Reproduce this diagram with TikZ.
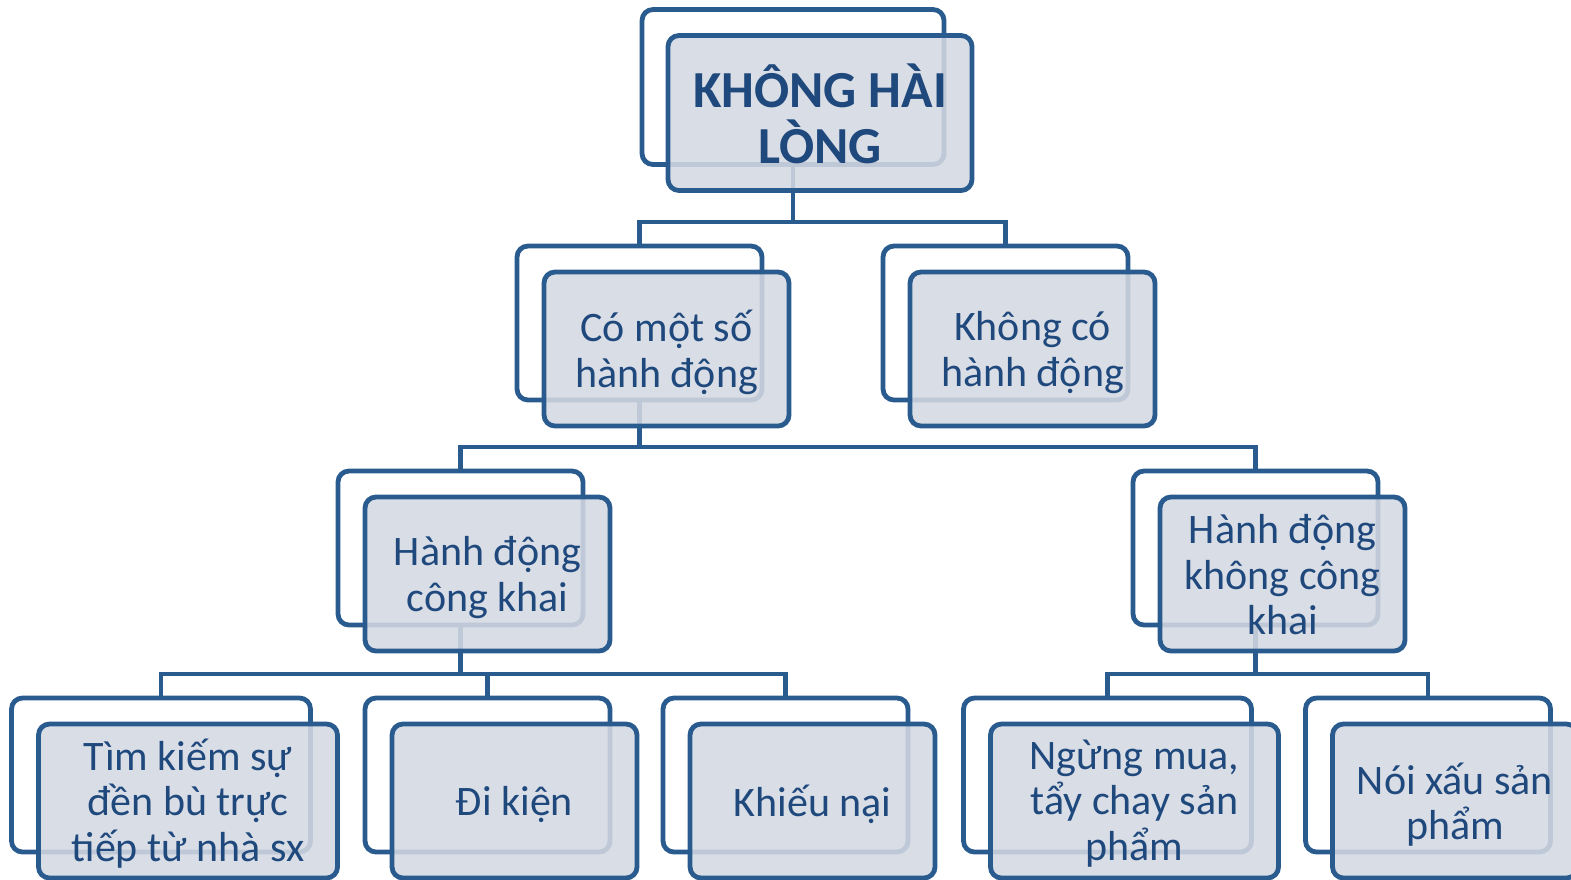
\documentclass[tikz,border=0pt]{standalone}
\usepackage{fontspec}
\setmainfont{Carlito}
\definecolor{edge}{RGB}{41,91,142}
\definecolor{txt}{RGB}{31,73,125}
\definecolor{boxfill}{RGB}{212,216,226}
\begin{document}
\begin{tikzpicture}[x=1pt,y=-1pt,
  backbox/.style={draw=edge, line width=4.8pt, rounded corners=11pt, minimum height=154pt, inner sep=0pt},
  frontbox/.style={draw=edge, line width=4.8pt, rounded corners=11pt, fill=boxfill, fill opacity=0.88, minimum height=154pt, inner sep=0pt},
  boxtext/.style={inner sep=0pt, align=center, text=txt, font=\fontsize{42}{45.5}\selectfont},
  conn/.style={draw=edge, line width=4.8pt}]
\useasboundingbox (0,0) rectangle (1571,879);
\clip (0,0) rectangle (1571,879);
% back boxes
\node[backbox, minimum width=302pt, minimum height=155pt] (b1) at (793,87) {};
\node[backbox, minimum width=245pt] (b2a) at (639.5,323) {};
\node[backbox, minimum width=245pt] (b2b) at (1005.5,323) {};
\node[backbox, minimum width=245pt] (b3a) at (460.5,548) {};
\node[backbox, minimum width=245pt] (b3b) at (1255.5,548) {};
\node[backbox, minimum width=299pt] (b4a) at (161,775) {};
\node[backbox, minimum width=245pt] (b4b) at (487.5,775) {};
\node[backbox, minimum width=245pt] (b4c) at (785.5,775) {};
\node[backbox, minimum width=288pt] (b4d) at (1107.5,775) {};
\node[backbox, minimum width=245pt] (b4e) at (1428,775) {};
% connectors
\coordinate (j1) at (793,222);
\coordinate (j2) at (639.5,447);
\coordinate (j3) at (460.5,674);
\coordinate (j4) at (1255.5,674);
\draw[conn] (b1.south) -- (j1);
\draw[conn] (b2a.north) |- (j1) -| (b2b.north);
\draw[conn] (b2a.south) -- (j2);
\draw[conn] (b3a.north) |- (j2) -| (b3b.north);
\draw[conn] (b3a.south) -- (j3);
\draw[conn] (b4a.north) |- (j3) -| (b4c.north);
\draw[conn] (j3) -| (b4b.north);
\draw[conn] (b3b.south) -- (j4);
\draw[conn] (b4d.north) |- (j4) -| (b4e.north);
% front boxes
\node[frontbox, minimum width=304pt, minimum height=155pt] (f1) at (820,113) {};
\node[frontbox, minimum width=245pt] (f2a) at (666.5,349) {};
\node[frontbox, minimum width=245pt] (f2b) at (1032.5,349) {};
\node[frontbox, minimum width=245pt] (f3a) at (487.5,574) {};
\node[frontbox, minimum width=245pt] (f3b) at (1282.5,574) {};
\node[frontbox, minimum width=299pt] (f4a) at (188,801) {};
\node[frontbox, minimum width=245pt] (f4b) at (514.5,801) {};
\node[frontbox, minimum width=245pt] (f4c) at (812.5,801) {};
\node[frontbox, minimum width=288pt] (f4d) at (1134.5,801) {};
\node[frontbox, minimum width=245pt] (f4e) at (1455,801) {};
% texts
\node[boxtext, font=\fontsize{52}{56}\selectfont\bfseries] (t1) at ([yshift=-1pt]f1.center) {KHÔNG HÀI\\LÒNG};
\node[boxtext] (t2a) at ([yshift=-3.5pt]f2a.center) {Có một số\\hành động};
\node[boxtext] (t2b) at ([yshift=-3.5pt]f2b.center) {Không có\\hành động};
\node[boxtext] (t3a) at ([yshift=-3.5pt]f3a.center) {Hành động\\công khai};
\node[boxtext] (t3b) at ([yshift=-1pt]f3b.center) {Hành động\\không công\\khai};
\node[boxtext] (t4a) at ([yshift=-2.5pt]f4a.center) {Tìm kiếm sự\\đền bù trực\\tiếp từ nhà sx};
\node[boxtext] (t4b) at ([yshift=-3pt]f4b.center) {Đi kiện};
\node[boxtext] (t4c) at ([yshift=-3pt]f4c.center) {Khiếu nại};
\node[boxtext] (t4d) at ([yshift=-2.5pt]f4d.center) {Ngừng mua,\\tẩy chay sản\\phẩm};
\node[boxtext] (t4e) at ([yshift=-3.5pt]f4e.center) {Nói xấu sản\\phẩm};
\end{tikzpicture}
\end{document}
